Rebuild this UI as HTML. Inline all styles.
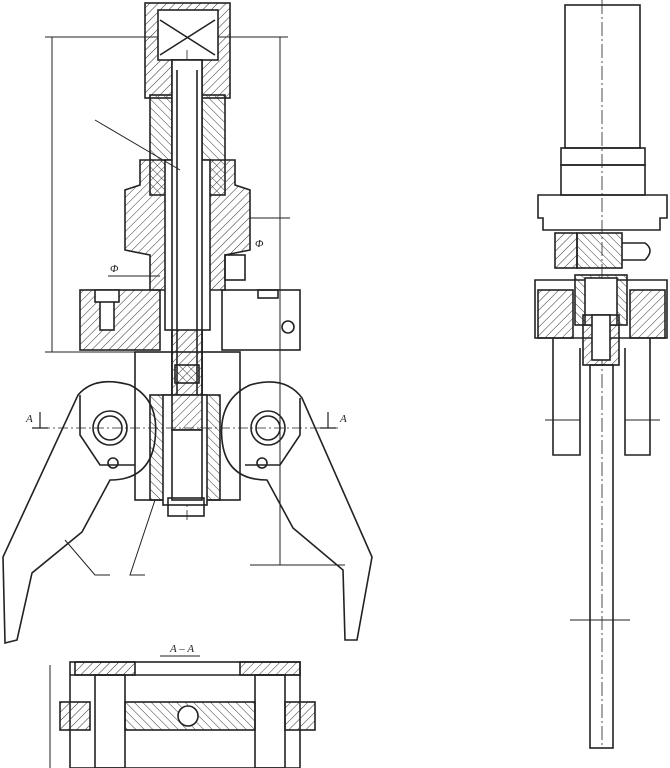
<!DOCTYPE html>
<html><head><style>html,body{margin:0;padding:0;background:#fff;}svg{display:block;}</style></head><body>
<svg width="670" height="768" viewBox="0 0 670 768" xmlns="http://www.w3.org/2000/svg" font-family="Liberation Serif, serif">
<defs>
<pattern id="h" width="6" height="6" patternUnits="userSpaceOnUse" patternTransform="rotate(45)"><line x1="0" y1="0" x2="0" y2="6" stroke="#333" stroke-width="1"/></pattern>
<pattern id="h2" width="6" height="6" patternUnits="userSpaceOnUse" patternTransform="rotate(-45)"><line x1="0" y1="0" x2="0" y2="6" stroke="#333" stroke-width="1"/></pattern>
</defs>
<g fill="none" stroke="#222" stroke-width="1.6">
<!-- LEFT VIEW -->
<!-- dimension lines -->
<line x1="45" y1="37" x2="288" y2="37" stroke-width="1"/>
<line x1="52" y1="37" x2="52" y2="352" stroke-width="1"/>
<line x1="45" y1="352" x2="135" y2="352" stroke-width="1"/>
<line x1="280" y1="37" x2="280" y2="565" stroke-width="1"/>
<line x1="250" y1="218" x2="290" y2="218" stroke-width="1"/>
<line x1="250" y1="565" x2="345" y2="565" stroke-width="1"/>
<!-- top tube -->
<rect x="145" y="3" width="85" height="95" fill="url(#h)"/>
<rect x="158" y="10" width="60" height="50" fill="#fff"/>
<path d="M160 20 L215 55 M215 20 L160 55"/>
<rect x="150" y="95" width="75" height="100" fill="url(#h2)"/>
<rect x="172" y="60" width="30" height="440" fill="#fff"/>
<line x1="187" y1="50" x2="187" y2="520" stroke-width="0.8" stroke-dasharray="12 3 2 3"/>
<!-- flange -->
<path d="M140 160 L235 160 L235 185 L250 190 L250 250 L225 255 L225 290 L150 290 L150 255 L125 250 L125 190 L140 185 Z" fill="url(#h)"/>
<rect x="165" y="160" width="45" height="170" fill="#fff"/>
<rect x="172" y="60" width="30" height="440" fill="#fff"/>
<line x1="177" y1="70" x2="177" y2="500"/><line x1="197" y1="70" x2="197" y2="500"/>
<rect x="225" y="255" width="20" height="25"/>
<!-- body block -->
<rect x="80" y="290" width="80" height="60" fill="url(#h)"/>
<rect x="100" y="295" width="14" height="35" fill="#fff"/>
<rect x="95" y="290" width="24" height="12" fill="#fff"/>
<rect x="222" y="290" width="78" height="60"/>
<circle cx="288" cy="327" r="6"/>
<rect x="258" y="290" width="20" height="8"/>
<rect x="135" y="352" width="105" height="148"/>
<rect x="150" y="395" width="70" height="105" fill="url(#h2)"/>
<rect x="163" y="395" width="44" height="110" fill="#fff"/>
<rect x="172" y="330" width="30" height="100" fill="url(#h)"/>
<rect x="172" y="430" width="30" height="70" fill="#fff"/>
<rect x="168" y="498" width="36" height="18"/>
<rect x="175" y="365" width="24" height="18" fill="url(#h2)"/>
<!-- jaws -->
<path d="M78 395 Q95 375 130 385 Q160 400 155 440 Q150 480 110 480 L82 532 L32 573 L17 640 L5 643 L3 557 Z"/>
<path d="M302 398 Q285 375 250 385 Q218 400 222 440 Q226 480 267 480 L293 528 L343 570 L345 640 L357 640 L372 557 Z"/>
<path d="M80 395 L80 435 L100 465 L135 465" />
<path d="M300 398 L300 435 L280 465 L245 465"/>
<circle cx="110" cy="428" r="17"/><circle cx="110" cy="428" r="12"/>
<circle cx="268" cy="428" r="17"/><circle cx="268" cy="428" r="12"/>
<circle cx="113" cy="463" r="5"/><circle cx="262" cy="463" r="5"/>
<line x1="40" y1="428" x2="340" y2="428" stroke-width="0.8" stroke-dasharray="10 3 2 3"/>
<path d="M32 428 L48 428 M40 428 L40 412 M320 428 L336 428 M328 428 L328 412" stroke-width="1.2"/>
<path d="M65 540 L95 575 L110 575 M155 500 L130 575 L145 575" stroke-width="1"/>
<path d="M95 120 L180 170" stroke-width="1"/>
<path d="M108 276 L160 276" stroke-width="1"/>
<!-- SECTION A-A -->
<line x1="160" y1="656" x2="200" y2="656" stroke-width="1"/>
<rect x="70" y="662" width="230" height="106"/>
<line x1="70" y1="675" x2="300" y2="675"/>
<rect x="75" y="662" width="60" height="13" fill="url(#h)"/><rect x="240" y="662" width="60" height="13" fill="url(#h)"/>
<rect x="95" y="675" width="30" height="93"/><rect x="255" y="675" width="30" height="93"/>
<rect x="60" y="702" width="30" height="28" fill="url(#h)"/><rect x="285" y="702" width="30" height="28" fill="url(#h)"/>
<rect x="125" y="702" width="130" height="28" fill="url(#h2)"/>
<circle cx="188" cy="716" r="10" fill="#fff"/>
<line x1="50" y1="665" x2="50" y2="768" stroke-width="1"/>
<!-- RIGHT VIEW -->
<rect x="565" y="5" width="75" height="143"/>
<line x1="602" y1="0" x2="602" y2="748" stroke-width="0.8" stroke-dasharray="14 3 2 3"/>
<rect x="561" y="148" width="84" height="17"/>
<rect x="561" y="165" width="84" height="30"/>
<path d="M538 195 L667 195 L667 218 L660 218 L660 230 L543 230 L543 218 L538 218 Z"/>
<rect x="555" y="233" width="22" height="35" fill="url(#h)"/>
<rect x="577" y="233" width="45" height="35" fill="url(#h2)"/>
<path d="M622 243 L645 243 Q655 250 645 260 L622 260"/>
<path d="M535 280 L667 280 L667 338 L535 338 Z"/>
<rect x="538" y="290" width="35" height="48" fill="url(#h)"/><rect x="630" y="290" width="35" height="48" fill="url(#h)"/>
<rect x="575" y="275" width="52" height="50" fill="url(#h2)"/>
<rect x="585" y="278" width="32" height="47" fill="#fff"/>
<rect x="583" y="315" width="36" height="50" fill="url(#h)"/>
<rect x="592" y="315" width="18" height="45" fill="#fff"/>
<path d="M553 338 L553 455 L580 455 L580 348 M650 338 L650 455 L625 455 L625 348"/>
<line x1="545" y1="420" x2="580" y2="420" stroke-width="1"/><line x1="625" y1="420" x2="660" y2="420" stroke-width="1"/>
<rect x="590" y="365" width="23" height="383"/>
<line x1="570" y1="620" x2="630" y2="620" stroke-width="1"/>
</g>
<g fill="#222" font-size="11" font-style="italic">
<text x="26" y="422">A</text><text x="340" y="422">A</text>
<text x="170" y="652">A – A</text>
<text x="255" y="247">Φ</text><text x="110" y="272">Φ</text>
</g>
</svg>
</body></html>
